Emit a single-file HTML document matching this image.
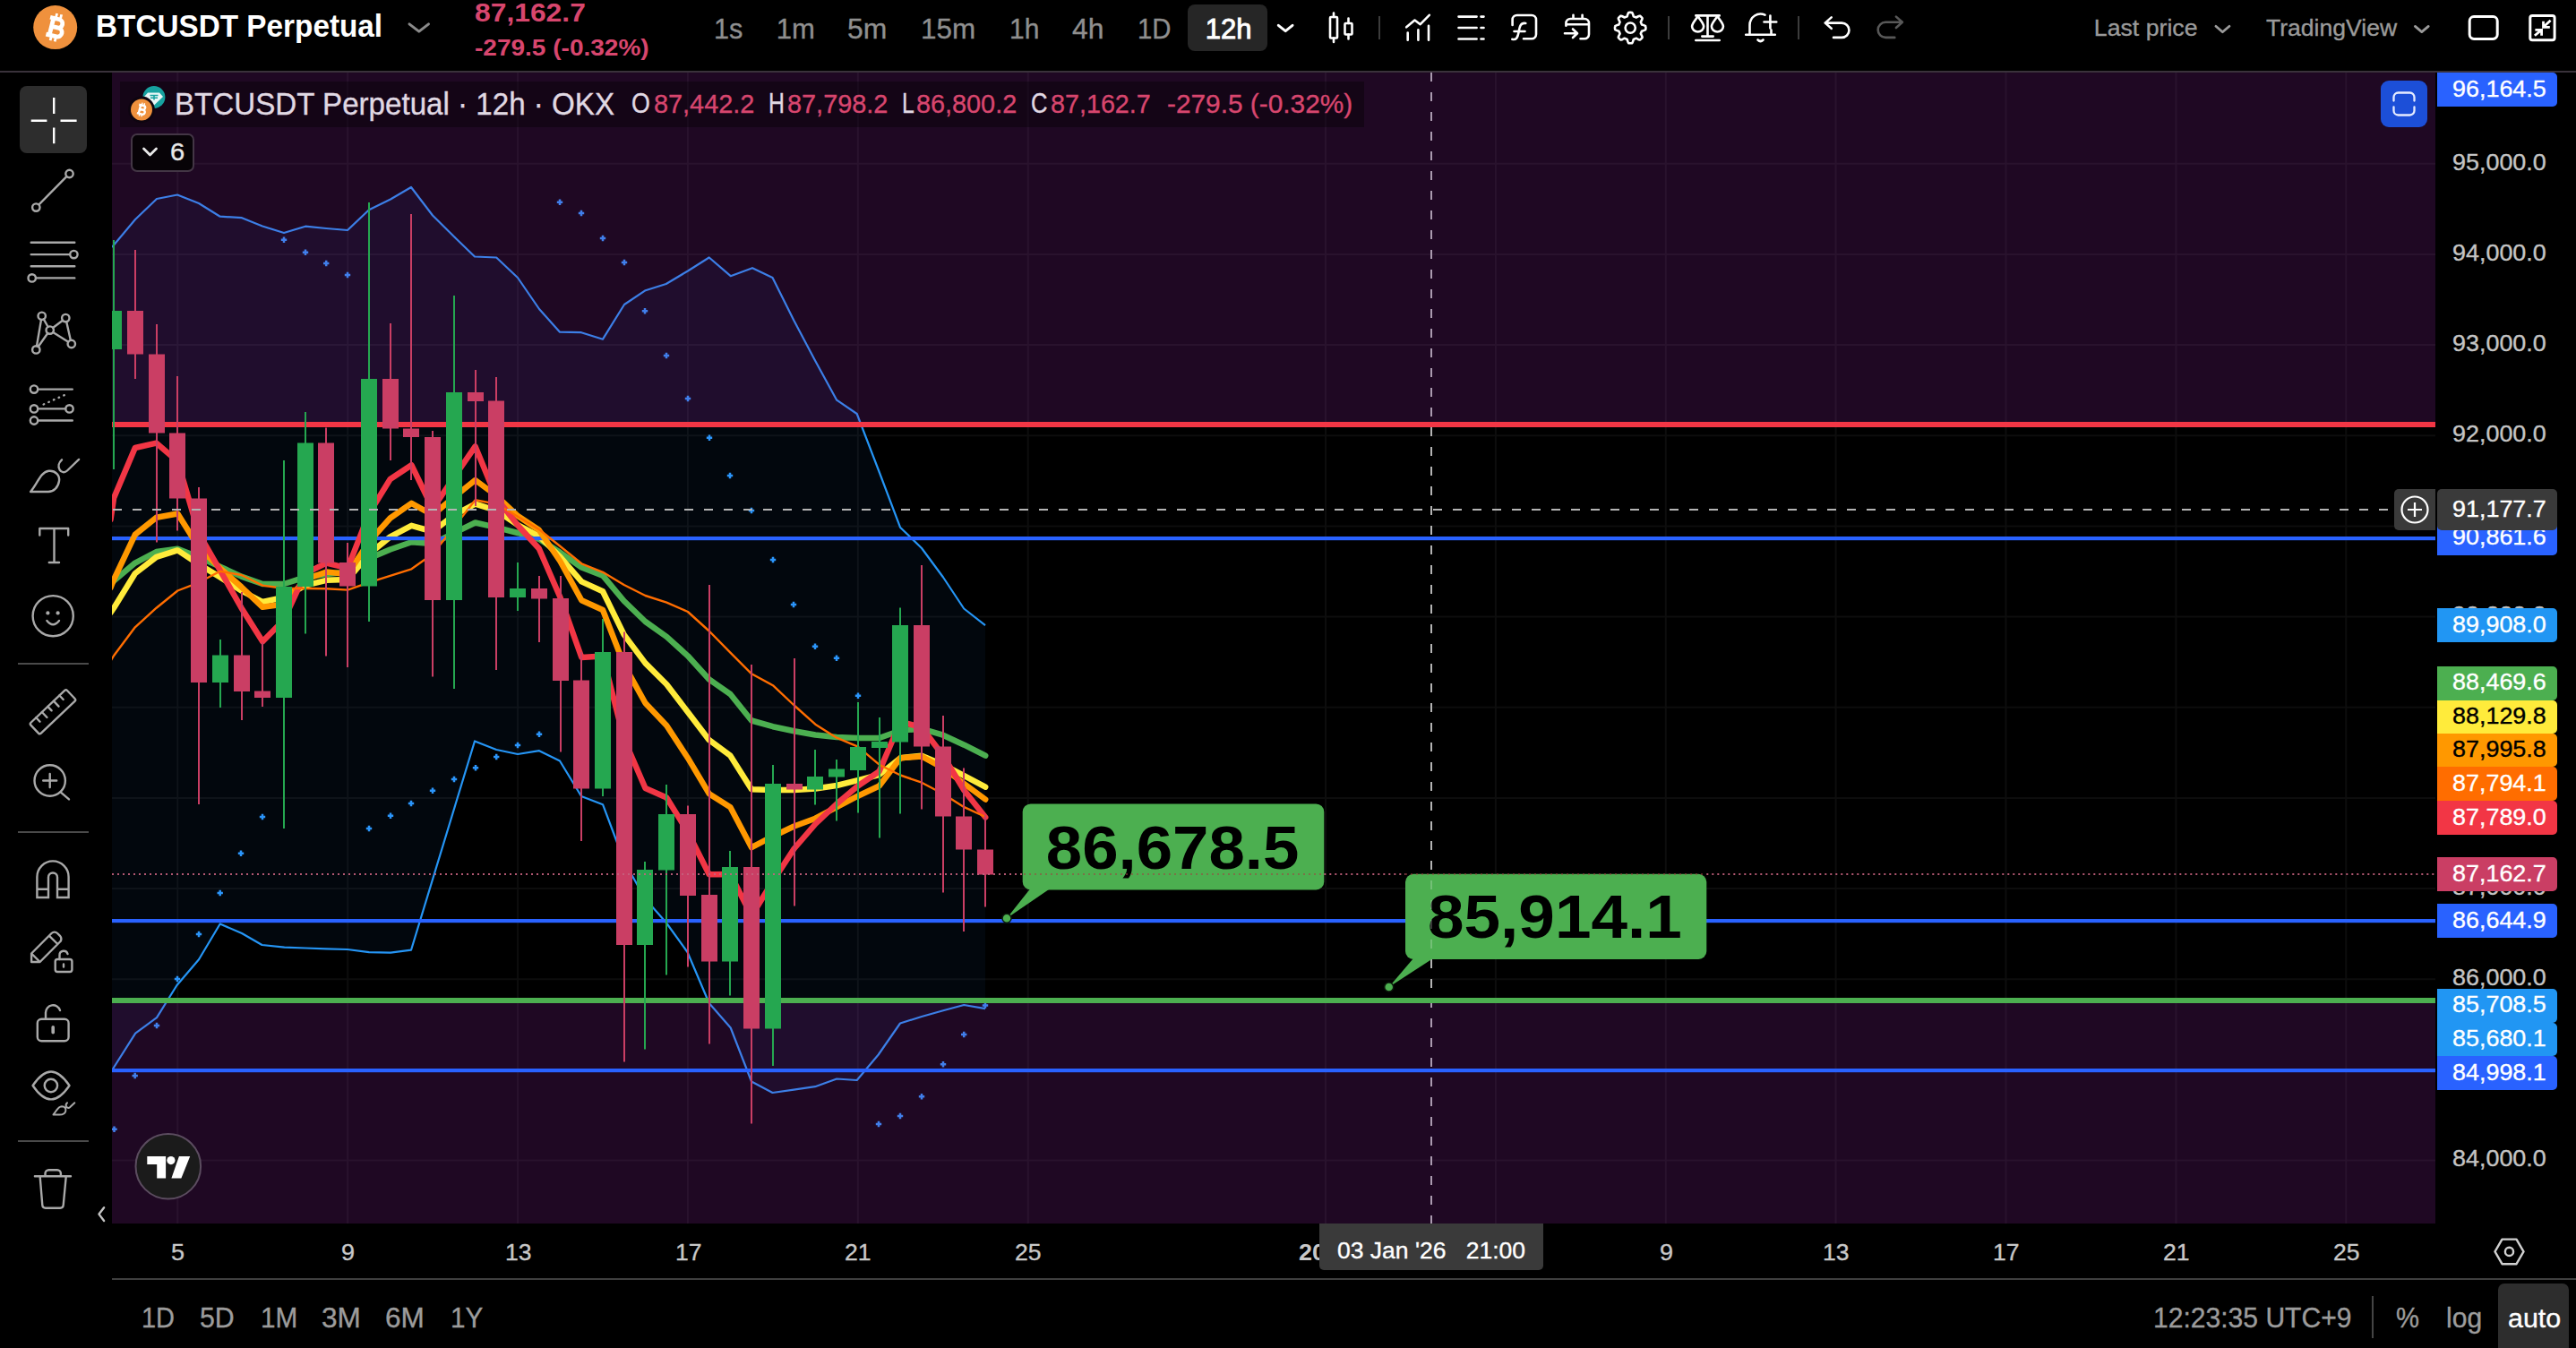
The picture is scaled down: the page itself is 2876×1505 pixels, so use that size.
<!DOCTYPE html>
<html lang="en"><head><meta charset="utf-8"><title>BTCUSDT Perpetual 12h chart</title>
<style>
html,body{margin:0;padding:0;background:#000;}
body{width:2876px;height:1505px;overflow:hidden;position:relative;font-family:"Liberation Sans",Arial,sans-serif;}
#app{position:absolute;left:0;top:0;width:2876px;height:1505px;background:#000;overflow:hidden;}
.t{position:absolute;white-space:pre;transform-origin:0 50%;display:block;}
.abs{position:absolute;}
svg{position:absolute;left:0;top:0;overflow:visible;}
#topbar{position:absolute;left:0;top:0;width:2876px;height:79px;background:#000;}
#topline{position:absolute;left:0;top:79px;width:2876px;height:2px;background:#3a323b;}
#tools{position:absolute;left:0;top:81px;width:125px;height:1347px;background:#000;}
#chart{position:absolute;left:125px;top:81px;width:2594px;height:1285px;background:#000;overflow:hidden;}
#paxis{position:absolute;left:2719px;top:81px;width:157px;height:1285px;background:#000;overflow:hidden;}
#taxis{position:absolute;left:125px;top:1366px;width:2751px;height:61px;background:#000;}
#botline{position:absolute;left:125px;top:1427px;width:2751px;height:2px;background:#3f3f3f;}
#bottom{position:absolute;left:0;top:1429px;width:2876px;height:76px;background:#000;overflow:hidden;}
.pl{position:absolute;left:2px;width:134px;height:38px;border-radius:0 5px 5px 0;}
.btn{position:absolute;border-radius:8px;background:#2c2c2c;}
.sep{position:absolute;width:2px;background:#3c3c3c;}
.hsep{position:absolute;left:20px;width:79px;height:2px;background:#4a4a4a;}
</style></head><body><div id="app">

<header id="topbar">
<div class="btn" style="left:1326px;top:5px;width:89px;height:52px;background:#262626"></div>
<span class="t " style="left:107.0px;top:8.2px;font-size:35.6px;line-height:43px;color:#fff;font-weight:700;transform:scaleX(0.9360);">BTCUSDT Perpetual</span>
<span class="t " style="left:529.7px;top:-4.7px;font-size:30.4px;line-height:36px;color:#d8466e;font-weight:700;transform:scaleX(1.0469);">87,162.7</span>
<span class="t " style="left:529.7px;top:37.8px;font-size:25.5px;line-height:31px;color:#d8466e;font-weight:700;transform:scaleX(1.0989);">-279.5 (-0.32%)</span>
<span class="t " style="left:796.9px;top:13.6px;font-size:31.0px;line-height:37px;color:#8f8f8f;transform:scaleX(0.9897);-webkit-text-stroke:0.35px #8f8f8f;">1s</span>
<span class="t " style="left:866.8px;top:13.6px;font-size:31.0px;line-height:37px;color:#8f8f8f;-webkit-text-stroke:0.35px #8f8f8f;">1m</span>
<span class="t " style="left:945.9px;top:13.6px;font-size:31.0px;line-height:37px;color:#8f8f8f;transform:scaleX(1.0288);-webkit-text-stroke:0.35px #8f8f8f;">5m</span>
<span class="t " style="left:1027.9px;top:13.6px;font-size:31.0px;line-height:37px;color:#8f8f8f;transform:scaleX(1.0134);-webkit-text-stroke:0.35px #8f8f8f;">15m</span>
<span class="t " style="left:1127.4px;top:13.6px;font-size:31.0px;line-height:37px;color:#8f8f8f;transform:scaleX(0.9660);-webkit-text-stroke:0.35px #8f8f8f;">1h</span>
<span class="t " style="left:1196.7px;top:13.6px;font-size:31.0px;line-height:37px;color:#8f8f8f;transform:scaleX(1.0269);-webkit-text-stroke:0.35px #8f8f8f;">4h</span>
<span class="t " style="left:1269.9px;top:13.6px;font-size:31.0px;line-height:37px;color:#8f8f8f;transform:scaleX(0.9465);-webkit-text-stroke:0.35px #8f8f8f;">1D</span>
<span class="t " style="left:1345.7px;top:13.6px;font-size:31.0px;line-height:37px;color:#fff;-webkit-text-stroke:0.90px #fff;">12h</span>
<span class="t " style="left:2337.8px;top:14.6px;font-size:26.7px;line-height:32px;color:#9a9a9a;-webkit-text-stroke:0.35px #9a9a9a;">Last price</span>
<span class="t " style="left:2530.0px;top:14.6px;font-size:26.7px;line-height:32px;color:#9a9a9a;transform:scaleX(0.9952);-webkit-text-stroke:0.35px #9a9a9a;">TradingView</span>
<div class="sep" style="left:1539px;top:18px;height:26px"></div>
<div class="sep" style="left:1862px;top:18px;height:26px"></div>
<div class="sep" style="left:2007px;top:18px;height:26px"></div>
<svg width="2876" height="79" viewBox="0 0 2876 79" fill="none" stroke="#fff" stroke-width="2.6" stroke-linecap="round" stroke-linejoin="round">
<circle cx="61.7" cy="30.6" r="24.5" fill="#ef913d" stroke="none"/>
<g transform="translate(62,30.6) rotate(14)" stroke="#fff" stroke-width="4.8" stroke-linecap="butt" stroke-linejoin="miter"><path d="M-8.5,-9.6 H2 a4.6,4.6 0 0 1 0,9.4 H-4.5 M-4.5,-0.2 H3.4 a5,5 0 0 1 0,10 H-8.5 M-4.6,-9.6 V9.8" /><path d="M-2.2,-15.5 V-11 M3,-15.5 V-11 M-2.2,11 V15.5 M3,11 V15.5" stroke-width="2.8"/></g>
<path d="M457.0,26.9 L467.8,35.1 L478.5,26.9" stroke="#8a8a8a" stroke-width="3"/>
<path d="M1427.3,28.3 L1435.2,34.7 L1443.0,28.3" stroke="#fff" stroke-width="3"/>
<path d="M2473.9,29.3 L2481.4,35.7 L2489.0,29.3" stroke="#9a9a9a" stroke-width="2.8"/>
<path d="M2696.4,29.4 L2703.8,35.6 L2711.2,29.4" stroke="#9a9a9a" stroke-width="2.8"/>
<rect x="1485" y="19" width="8" height="23.5" rx="1"/><path d="M1489,14.5 V19 M1489,42.5 V47"/><rect x="1501.5" y="26" width="8" height="12.5" rx="1"/><path d="M1505.5,20.5 V26 M1505.5,38.5 V43.5"/>
<path d="M1570.2,30.3 L1579.5,22.5 L1585.7,27.2 L1595.8,16.8 M1571.7,36.5 V44.7 M1583.4,33.4 V44.7 M1595,28.7 V44.7"/>
<path d="M1628.5,18.6 H1648.6 M1653.5,18.6 H1656.5"/>
<path d="M1628.5,31 H1648.6 M1653.5,31 H1656.5"/>
<path d="M1628.5,43.5 H1648.6 M1653.5,43.5 H1656.5"/>
<path d="M1688.6,28 V22 a5,5 0 0 1 5,-5 H1710 a5,5 0 0 1 5,5 V38.3 a5,5 0 0 1 -5,5 H1701"/>
<path d="M1688.3,43.8 c4.5,1.2 6.2,-2 7.2,-7.5 c1,-6 1.6,-11.3 7.8,-10.3 M1690.5,35 H1702.5"/>
<path d="M1748.4,28.7 V26 a5,5 0 0 1 5,-5 H1769 a5,5 0 0 1 5,5 V38.3 a5,5 0 0 1 -5,5 H1764.5 M1756.5,16.8 V21 M1766.6,16.8 V21 M1748.4,27.2 H1774 M1747,37.3 H1760.5 M1756,32.5 L1761,37.3 L1756,42"/>
<path d="M1820.2,13.9 L1820.9,13.9 L1821.5,14.0 L1822.2,14.1 L1822.7,15.1 L1823.2,16.2 L1823.5,17.3 L1823.8,18.3 L1824.3,18.5 L1824.8,18.7 L1825.3,18.9 L1825.7,19.1 L1826.2,19.3 L1826.7,19.5 L1827.6,19.0 L1828.6,18.5 L1829.7,18.0 L1830.8,17.7 L1831.4,18.0 L1831.9,18.5 L1832.4,18.9 L1832.8,19.4 L1833.3,19.9 L1833.6,20.5 L1833.3,21.6 L1832.8,22.7 L1832.3,23.7 L1831.8,24.6 L1832.0,25.1 L1832.2,25.6 L1832.4,26.0 L1832.6,26.5 L1832.8,27.0 L1833.0,27.5 L1834.0,27.8 L1835.1,28.1 L1836.2,28.6 L1837.2,29.1 L1837.3,29.8 L1837.4,30.4 L1837.4,31.1 L1837.4,31.8 L1837.3,32.4 L1837.2,33.1 L1836.2,33.6 L1835.1,34.1 L1834.0,34.4 L1833.0,34.7 L1832.8,35.2 L1832.6,35.7 L1832.4,36.2 L1832.2,36.6 L1832.0,37.1 L1831.8,37.6 L1832.3,38.5 L1832.8,39.5 L1833.3,40.6 L1833.6,41.7 L1833.3,42.3 L1832.8,42.8 L1832.4,43.3 L1831.9,43.7 L1831.4,44.2 L1830.8,44.5 L1829.7,44.2 L1828.6,43.7 L1827.6,43.2 L1826.7,42.7 L1826.2,42.9 L1825.7,43.1 L1825.3,43.3 L1824.8,43.5 L1824.3,43.7 L1823.8,43.9 L1823.5,44.9 L1823.2,46.0 L1822.7,47.1 L1822.2,48.1 L1821.5,48.2 L1820.9,48.3 L1820.2,48.3 L1819.5,48.3 L1818.9,48.2 L1818.2,48.1 L1817.7,47.1 L1817.2,46.0 L1816.9,44.9 L1816.6,43.9 L1816.1,43.7 L1815.6,43.5 L1815.1,43.3 L1814.7,43.1 L1814.2,42.9 L1813.7,42.7 L1812.8,43.2 L1811.8,43.7 L1810.7,44.2 L1809.6,44.5 L1809.0,44.2 L1808.5,43.7 L1808.0,43.3 L1807.6,42.8 L1807.1,42.3 L1806.8,41.7 L1807.1,40.6 L1807.6,39.5 L1808.1,38.5 L1808.6,37.6 L1808.4,37.1 L1808.2,36.6 L1808.0,36.2 L1807.8,35.7 L1807.6,35.2 L1807.4,34.7 L1806.4,34.4 L1805.3,34.1 L1804.2,33.6 L1803.2,33.1 L1803.1,32.4 L1803.0,31.8 L1803.0,31.1 L1803.0,30.4 L1803.1,29.8 L1803.2,29.1 L1804.2,28.6 L1805.3,28.1 L1806.4,27.8 L1807.4,27.5 L1807.6,27.0 L1807.8,26.5 L1808.0,26.0 L1808.2,25.6 L1808.4,25.1 L1808.6,24.6 L1808.1,23.7 L1807.6,22.7 L1807.1,21.6 L1806.8,20.5 L1807.1,19.9 L1807.6,19.4 L1808.0,18.9 L1808.5,18.5 L1809.0,18.0 L1809.6,17.7 L1810.7,18.0 L1811.8,18.5 L1812.8,19.0 L1813.7,19.5 L1814.2,19.3 L1814.7,19.1 L1815.1,18.9 L1815.6,18.7 L1816.1,18.5 L1816.6,18.3 L1816.9,17.3 L1817.2,16.2 L1817.7,15.1 L1818.2,14.1 L1818.9,14.0 L1819.5,13.9 L1820.2,13.9Z"/>
<circle cx="1820.2" cy="31.1" r="5.6"/>
<path d="M1893.3,17.4 H1919.7 M1906.5,17.4 V40.4 M1900.3,40.6 H1912.7 M1893.3,45 H1919.7"/>
<path d="M1895.6,18 c-3,5 -6.5,8 -6.5,11.5 a6.5,6 0 0 0 13,0 c0,-3.5 -3.5,-6.5 -6.5,-11.5z"/>
<path d="M1917.4,18 c-3,5 -6.5,8 -6.5,11.5 a6.5,6 0 0 0 13,0 c0,-3.5 -3.5,-6.5 -6.5,-11.5z"/>
<path d="M1949.2,38.8 H1981.8 M1953.5,38.8 V28 a12,12.5 0 0 1 17,-11.3 M1977.5,33.5 V38.8 M1969.5,24.5 H1983.3 M1976.4,17.5 V31.5 M1962.5,44.5 q3,3 6,0"/>
<path d="M2044.7,19.4 L2037.7,25.6 L2044.7,31.8 M2037.7,25.6 H2056.3 a8.15,8.15 0 0 1 0,16.3 H2047"/>
<path d="M2116.9,18.6 L2123.9,24.8 L2116.9,31 M2123.9,24.8 H2105.2 a8.55,8.55 0 0 0 0,17.1 H2115.3" stroke="#585858"/>
<rect x="2757.2" y="18.6" width="31" height="24.8" rx="4.8" stroke-width="3"/>
<rect x="2824.8" y="17.4" width="27.3" height="27.3" rx="2.5" stroke-width="3"/>
<path d="M2847.6,22.7 L2839.8,30 M2839.5,23.7 V30.3 H2846.8 M2829.9,39.8 L2837.2,33.6 M2830.4,33.3 H2837.6 V39.8" stroke-width="2.8" stroke-linecap="butt" stroke-linejoin="miter"/>
</svg>
</header><div id="topline"></div>
<aside id="tools">
<div class="btn" style="left:22px;top:15px;width:75px;height:75px;background:#2d2d2d"></div>
<div class="hsep" style="top:659px"></div>
<div class="hsep" style="top:847px"></div>
<div class="hsep" style="top:1192px"></div>
<svg width="125" height="1347" viewBox="0 81 125 1347" fill="none" stroke="#a9a9a9" stroke-width="2.4" stroke-linecap="round" stroke-linejoin="round">
<path d="M34.7,134.8 H52.4 M67.5,134.8 H85.6 M60.2,109 V127 M60.2,142.5 V160.2" stroke="#fff" stroke-linecap="butt"/>
<circle cx="77.5" cy="194" r="4.2"/><circle cx="40.3" cy="231.6" r="4.2"/><path d="M43.5,228.4 L74.3,197.2"/>
<path d="M34.7,270.8 H83.3 M34.7,284.1 H78 M34.7,297.2 H83.3 M40.2,310.4 H83.3"/><circle cx="82.4" cy="284.1" r="4.2"/><circle cx="35.7" cy="310.4" r="4.2"/>
<path d="M46.0,356.9 L41.0,386.3 M48.8,356.4 L53.6,365.0 M42.7,387.0 L53.3,372.0 M59.0,366.0 L70.0,357.7 M74.2,359.2 L78.9,379.9 M59.2,370.9 L76.3,381.7"/>
<circle cx="46.7" cy="352.8" r="4.2"/>
<circle cx="73.3" cy="355.1" r="4.2"/>
<circle cx="55.7" cy="368.6" r="4.2"/>
<circle cx="79.8" cy="384" r="4.2"/>
<circle cx="40.3" cy="390.4" r="4.2"/>
<path d="M42.5,434.6 H80.8 M42.5,456.4 H73 M42.5,469.5 H80.8"/><path d="M48.6,451.5 L76.6,439" stroke-dasharray="0.6 5.6"/>
<circle cx="38" cy="434.6" r="4.2"/>
<circle cx="38" cy="456.4" r="4.2"/>
<circle cx="77.5" cy="456.4" r="4.2"/>
<circle cx="38" cy="469.5" r="4.2"/>
<path d="M34.1,549 C42,540 45,527 54.4,525.8 C62,525 67,531 66,537 C65,544 60,549 54,549 Z"/><path d="M88.1,512.9 L75,525.5 C72,528.3 68.5,527.5 66.6,524.5 C64.5,521 65.5,516.5 69,513.3"/>
<path d="M44.3,597.6 V590 H76.2 V597.6 M60.5,590 V628 M54.8,628 H66"/>
<circle cx="59.2" cy="687.7" r="22.6"/><circle cx="53.4" cy="684.4" r="2.1" fill="#a9a9a9" stroke="none"/><circle cx="64.6" cy="684.4" r="2.1" fill="#a9a9a9" stroke="none"/><path d="M52.4,693 Q59.2,701.5 66,693"/>
<g transform="translate(59,794.8) rotate(-43.5)"><rect x="-28" y="-8.2" width="56" height="16.4" rx="2"/><path d="M-18,-8.2 V-2 M-9,-8.2 V0 M0,-8.2 V-2 M9,-8.2 V0 M18,-8.2 V-2"/></g>
<circle cx="55.7" cy="871.5" r="17.2"/><path d="M48.2,871.5 H63.2 M55.7,864 V879 M67.9,884.6 L77,892.4"/>
<path d="M41.4,1002 V979 a17.6,17.6 0 0 1 35.2,0 V1002 H64 V979.5 a5,5 0 0 0 -10,0 V1002 Z M41.4,992.7 H54 M64,992.7 H76.6" stroke-linejoin="miter"/>
<path d="M35.1,1074 V1064.5 L57.5,1042 a4.6,4.6 0 0 1 6.6,0 l2.9,2.9 a4.6,4.6 0 0 1 0,6.6 L44.6,1074 Z M35.1,1064.5 L44.6,1074 M55,1044.8 L64.3,1054"/>
<rect x="61.7" y="1071" width="18.7" height="14" rx="2.5"/><path d="M66.5,1071 V1066.5 a4.6,4.6 0 0 1 9,-1.5 M71,1076.5 V1079.5"/>
<rect x="41.8" y="1137.7" width="34.8" height="24.5" rx="4.5"/><path d="M51,1137.7 V1130.5 a8.2,8.2 0 0 1 16,-2.5"/><path d="M59.2,1146.7 V1152.7" stroke-width="3.6"/>
<path d="M36.6,1212 C44,1201 50,1196.5 57,1196.5 C64,1196.5 70,1201 77.5,1212 C70,1223 64,1227.4 57,1227.4 C50,1227.4 44,1223 36.6,1212 Z"/><circle cx="56.9" cy="1212" r="7.2"/>
<path d="M59.5,1244.5 C63,1240.5 64.5,1235.5 69,1235.3 C72.5,1235.3 74,1238 73.3,1240.5 C72.5,1243.5 69.5,1244.6 66.5,1244.6 Z M83.3,1231.3 L78,1236.2 C76.5,1237.5 74.8,1236.8 74,1235.5 C73.3,1234 73.6,1232.4 75,1231.2" stroke-width="2"/>
<path d="M38.9,1313.3 H79 M50.5,1313.3 V1310.3 a4,4 0 0 1 4,-4 H63.9 a4,4 0 0 1 4,4 V1313.3 M44.7,1314 L47.3,1345.5 a3.5,3.5 0 0 0 3.5,3.2 H67.2 a3.5,3.5 0 0 0 3.5,-3.2 L73.7,1314"/>
<path d="M116.1,1348.3 L110.5,1355.6 L116.1,1363" stroke="#c4c4c4"/>
</svg></aside>
<main id="chart">
<svg width="2594" height="1285" viewBox="125 81 2594 1285">
<path d="M198.3,81 V1366 M388.2,81 V1366 M578.1,81 V1366 M767.9,81 V1366 M957.8,81 V1366 M1147.7,81 V1366 M1480.0,81 V1366 M1669.9,81 V1366 M1859.8,81 V1366 M2049.6,81 V1366 M2239.5,81 V1366 M2429.4,81 V1366 M2619.3,81 V1366 M125,1295.5 H2719 M125,1194.3 H2719 M125,1093.2 H2719 M125,992.0 H2719 M125,890.9 H2719 M125,789.7 H2719 M125,688.5 H2719 M125,587.4 H2719 M125,486.2 H2719 M125,385.1 H2719 M125,283.9 H2719 M125,182.8 H2719" stroke="#0d0d0d" stroke-width="2" fill="none"/>
<polygon points="125.0,276.0 151.0,245.0 175.0,222.0 198.0,217.5 222.0,227.0 245.7,241.7 270.0,243.2 293.0,252.5 317.0,260.0 341.0,252.7 364.2,255.0 388.0,257.0 412.0,234.2 436.0,222.5 459.0,209.0 483.0,240.5 507.0,264.2 530.0,286.5 554.2,287.5 578.0,310.0 602.0,345.0 625.0,370.7 649.0,371.2 673.0,378.7 697.0,340.0 720.7,324.2 743.7,317.0 768.0,302.5 791.7,287.5 815.7,308.2 840.0,299.2 862.5,310.0 886.2,357.5 910.0,402.5 934.2,446.7 956.7,462.0 980.7,524.5 1005.0,588.7 1029.0,612.0 1053.0,644.5 1076.2,679.5 1100.0,698.2 1100.0,1126.2 1076.2,1122.0 1053.0,1128.2 1029.0,1135.0 1005.0,1142.5 980.7,1177.5 956.7,1206.0 934.2,1204.5 910.0,1213.2 886.2,1216.7 862.5,1220.0 839.0,1207.5 815.7,1147.5 791.7,1120.0 767.5,1063.0 743.7,1030.0 720.0,1003.0 697.0,962.0 673.0,898.2 649.0,889.0 625.0,849.5 602.0,838.2 578.0,842.0 554.2,837.0 530.0,827.5 459.0,1060.7 436.0,1063.7 412.0,1063.2 388.0,1060.0 364.5,1059.3 341.0,1058.5 317.5,1057.7 292.5,1055.0 270.0,1042.0 245.7,1031.5 222.0,1071.2 197.5,1100.0 175.0,1136.2 151.2,1153.7 125.0,1195.0" fill="#2a7af5" fill-opacity="0.055"/>
<polyline points="125.0,276.0 151.0,245.0 175.0,222.0 198.0,217.5 222.0,227.0 245.7,241.7 270.0,243.2 293.0,252.5 317.0,260.0 341.0,252.7 364.2,255.0 388.0,257.0 412.0,234.2 436.0,222.5 459.0,209.0 483.0,240.5 507.0,264.2 530.0,286.5 554.2,287.5 578.0,310.0 602.0,345.0 625.0,370.7 649.0,371.2 673.0,378.7 697.0,340.0 720.7,324.2 743.7,317.0 768.0,302.5 791.7,287.5 815.7,308.2 840.0,299.2 862.5,310.0 886.2,357.5 910.0,402.5 934.2,446.7 956.7,462.0 980.7,524.5 1005.0,588.7 1029.0,612.0 1053.0,644.5 1076.2,679.5 1100.0,698.2" fill="none" stroke="#2595f5" stroke-width="2.2" stroke-linejoin="round"/>
<polyline points="125.0,1195.0 151.2,1153.7 175.0,1136.2 197.5,1100.0 222.0,1071.2 245.7,1031.5 270.0,1042.0 292.5,1055.0 317.5,1057.7 341.0,1058.5 364.5,1059.3 388.0,1060.0 412.0,1063.2 436.0,1063.7 459.0,1060.7 530.0,827.5 554.2,837.0 578.0,842.0 602.0,838.2 625.0,849.5 649.0,889.0 673.0,898.2 697.0,962.0 720.0,1003.0 743.7,1030.0 767.5,1063.0 791.7,1120.0 815.7,1147.5 839.0,1207.5 862.5,1220.0 886.2,1216.7 910.0,1213.2 934.2,1204.5 956.7,1206.0 980.7,1177.5 1005.0,1142.5 1029.0,1135.0 1053.0,1128.2 1076.2,1122.0 1100.0,1126.2" fill="none" stroke="#2595f5" stroke-width="2.2" stroke-linejoin="round"/>
<path d="M124.3,1260.7 h6.4 M127.5,1257.5 v6.4 M147.5,1201.0 h6.4 M150.7,1197.8 v6.4 M171.8,1145.0 h6.4 M175.0,1141.8 v6.4 M194.8,1093.0 h6.4 M198.0,1089.8 v6.4 M218.8,1043.0 h6.4 M222.0,1039.8 v6.4 M242.5,997.0 h6.4 M245.7,993.8 v6.4 M265.8,952.7 h6.4 M269.0,949.5 v6.4 M289.8,912.0 h6.4 M293.0,908.8 v6.4 M313.8,267.7 h6.4 M317.0,264.5 v6.4 M337.8,281.7 h6.4 M341.0,278.5 v6.4 M361.0,294.0 h6.4 M364.2,290.8 v6.4 M384.8,307.0 h6.4 M388.0,303.8 v6.4 M408.8,925.0 h6.4 M412.0,921.8 v6.4 M432.8,910.7 h6.4 M436.0,907.5 v6.4 M455.8,897.0 h6.4 M459.0,893.8 v6.4 M479.8,882.7 h6.4 M483.0,879.5 v6.4 M503.8,870.0 h6.4 M507.0,866.8 v6.4 M527.8,857.2 h6.4 M531.0,854.0 v6.4 M551.0,845.0 h6.4 M554.2,841.8 v6.4 M574.8,832.0 h6.4 M578.0,828.8 v6.4 M598.8,819.7 h6.4 M602.0,816.5 v6.4 M621.8,225.7 h6.4 M625.0,222.5 v6.4 M645.8,238.0 h6.4 M649.0,234.8 v6.4 M669.8,266.0 h6.4 M673.0,262.8 v6.4 M693.8,293.0 h6.4 M697.0,289.8 v6.4 M716.8,347.2 h6.4 M720.0,344.0 v6.4 M740.8,397.0 h6.4 M744.0,393.8 v6.4 M764.8,445.0 h6.4 M768.0,441.8 v6.4 M788.8,488.7 h6.4 M792.0,485.5 v6.4 M811.8,531.0 h6.4 M815.0,527.8 v6.4 M835.8,570.0 h6.4 M839.0,566.8 v6.4 M859.8,625.0 h6.4 M863.0,621.8 v6.4 M882.8,675.0 h6.4 M886.0,671.8 v6.4 M906.8,721.7 h6.4 M910.0,718.5 v6.4 M930.8,734.7 h6.4 M934.0,731.5 v6.4 M954.8,776.7 h6.4 M958.0,773.5 v6.4 M977.8,1255.0 h6.4 M981.0,1251.8 v6.4 M1001.8,1246.0 h6.4 M1005.0,1242.8 v6.4 M1025.8,1224.2 h6.4 M1029.0,1221.0 v6.4 M1049.8,1188.2 h6.4 M1053.0,1185.0 v6.4 M1073.0,1155.0 h6.4 M1076.2,1151.8 v6.4 M1096.8,1122.5 h6.4 M1100.0,1119.3 v6.4" stroke="#2b95fa" stroke-width="2.5" fill="none"/>
<rect x="125" y="81" width="2594" height="393" fill="#9c27b0" fill-opacity="0.2"/>
<rect x="125" y="1117" width="2594" height="249" fill="#9c27b0" fill-opacity="0.2"/>
<polyline points="123.5,652.0 127.1,648.6 150.8,628.6 174.6,616.0 198.3,612.7 222.0,622.0 245.8,632.7 269.5,643.6 293.2,652.0 317.0,652.0 340.7,644.4 364.4,641.0 388.2,638.6 411.9,623.6 435.6,613.5 459.4,605.2 483.1,606.9 506.9,595.2 530.6,583.5 554.3,588.9 578.1,595.0 601.8,601.8 625.5,616.8 649.3,633.5 673.0,642.7 696.7,671.0 720.5,694.0 744.2,710.8 767.9,732.3 791.7,758.5 815.4,775.0 839.1,804.5 862.9,811.2 886.6,816.2 910.3,820.5 934.1,823.0 957.8,824.0 981.6,824.0 1005.3,815.5 1029.0,813.7 1052.8,820.7 1076.5,831.7 1100.2,843.7" fill="none" stroke="#4caf50" stroke-width="6.5" stroke-linejoin="round" stroke-linecap="round"/>
<polyline points="123.5,684.0 127.1,678.7 150.8,640.3 174.6,621.9 198.3,614.4 222.0,630.0 245.8,644.4 269.5,659.5 293.2,672.0 317.0,667.0 340.7,653.6 364.4,647.8 388.2,647.0 411.9,618.6 435.6,599.4 459.4,586.8 483.1,593.5 506.9,575.0 530.6,562.6 554.3,570.0 578.1,586.0 601.8,598.5 625.5,621.8 649.3,649.4 673.0,660.2 696.7,708.6 720.5,740.4 744.2,764.0 767.9,795.0 791.7,826.2 815.4,843.7 839.1,881.2 862.9,882.0 886.6,882.0 910.3,880.5 934.1,877.0 957.8,871.2 981.6,865.0 1005.3,846.2 1029.0,843.7 1052.8,853.7 1076.5,866.2 1100.2,878.7" fill="none" stroke="#ffeb3b" stroke-width="6.5" stroke-linejoin="round" stroke-linecap="round"/>
<rect x="125" y="471" width="2594" height="6" fill="#f23645"/>
<rect x="125" y="599" width="2594" height="4.2" fill="#2962ff"/>
<rect x="125" y="1026" width="2594" height="4.2" fill="#2962ff"/>
<rect x="125" y="1114" width="2594" height="6" fill="#4caf50"/>
<rect x="125" y="1193" width="2594" height="4.2" fill="#2962ff"/>
<polyline points="123.5,656.0 127.1,647.0 150.8,596.9 174.6,577.7 198.3,573.5 222.0,611.2 245.8,634.4 269.5,655.3 293.2,677.8 317.0,674.5 340.7,647.0 364.4,638.6 388.2,641.0 411.9,605.0 435.6,578.5 459.4,561.8 483.1,575.0 506.9,555.0 530.6,536.0 554.3,553.5 578.1,576.0 601.8,591.8 625.5,626.8 649.3,670.2 673.0,681.0 696.7,742.0 720.5,785.0 744.2,810.0 767.9,846.2 791.7,886.2 815.4,901.2 839.1,946.2 862.9,933.7 886.6,922.5 910.3,913.7 934.1,901.2 957.8,888.7 981.6,877.5 1005.3,846.2 1029.0,844.5 1052.8,857.5 1076.5,875.0 1100.2,892.5" fill="none" stroke="#ff9800" stroke-width="6.5" stroke-linejoin="round" stroke-linecap="round"/>
<polyline points="123.5,580.0 127.1,556.0 150.8,500.0 174.6,494.7 198.3,515.0 222.0,595.5 245.8,637.0 269.5,678.7 293.2,716.2 317.0,692.0 340.7,640.3 364.4,628.6 388.2,634.4 411.9,573.5 435.6,535.0 459.4,519.2 483.1,568.0 506.9,532.8 530.6,498.4 554.3,556.0 578.1,586.5 601.8,612.5 625.5,667.0 649.3,734.0 673.0,732.5 696.7,825.0 720.5,880.0 744.2,890.5 767.9,929.0 791.7,976.2 815.4,976.0 839.1,1022.5 862.9,983.7 886.6,947.5 910.3,920.0 934.1,897.5 957.8,877.5 981.6,861.2 1005.3,806.0 1029.0,812.0 1052.8,843.5 1076.5,882.5 1100.2,912.5" fill="none" stroke="#f23645" stroke-width="6.5" stroke-linejoin="round" stroke-linecap="round"/>
<polyline points="123.5,738.0 127.1,732.0 150.8,700.3 174.6,678.7 198.3,659.5 222.0,650.3 245.8,637.8 269.5,642.0 293.2,653.6 317.0,657.0 340.7,657.0 364.4,657.3 388.2,658.6 411.9,650.3 435.6,642.8 459.4,635.3 483.1,618.6 506.9,588.5 530.6,558.2 554.3,562.6 578.1,576.8 601.8,591.0 625.5,610.0 649.3,629.3 673.0,638.8 696.7,653.0 720.5,665.0 744.2,672.6 767.9,683.0 791.7,704.5 815.4,728.6 839.1,752.3 862.9,765.2 886.6,787.5 910.3,808.7 934.1,823.7 957.8,833.7 981.6,853.7 1005.3,865.5 1029.0,873.7 1052.8,886.2 1076.5,901.2 1100.2,912.0" fill="none" stroke="#ff6d00" stroke-width="2.4" stroke-linejoin="round" stroke-linecap="round"/>
<path d="M127,268.0 V524.0 M246,714.0 V790.0 M317,514.0 V925.0 M341,460.0 V707.5 M412,226.0 V694.0 M507,330.0 V769.0 M578,628.0 V682.0 M673,691.0 V889.0 M720,962.0 V1171.5 M744,876.0 V1088.5 M815,950.0 V1111.5 M863,854.0 V1190.0 M910,837.0 V898.5 M934,848.0 V916.5 M958,784.0 V907.5 M982,801.0 V935.5 M1005,678.5 V908.5" stroke="#25a750" stroke-width="2" fill="none"/>
<path d="M118,347.0 h18 V390.0 h-18 Z M237,731.5 h18 V762.0 h-18 Z M308,655.0 h18 V779.0 h-18 Z M332,494.5 h18 V655.0 h-18 Z M403,423.0 h18 V654.5 h-18 Z M498,438.0 h18 V670.0 h-18 Z M569,657.0 h18 V667.0 h-18 Z M664,728.0 h18 V880.5 h-18 Z M711,971.0 h18 V1055.0 h-18 Z M735,909.0 h18 V971.5 h-18 Z M806,968.0 h18 V1073.5 h-18 Z M854,875.0 h18 V1148.5 h-18 Z M901,867.0 h18 V881.5 h-18 Z M925,858.5 h18 V867.5 h-18 Z M949,834.0 h18 V860.0 h-18 Z M973,828.0 h18 V835.0 h-18 Z M996,698.0 h18 V828.5 h-18 Z" fill="#25a750"/>
<path d="M151,279.0 V423.0 M175,362.0 V605.5 M198,420.0 V592.5 M222,544.0 V898.0 M270,661.0 V804.0 M293,717.5 V789.0 M364,477.5 V732.5 M388,606.0 V745.0 M436,361.0 V514.0 M459,239.0 V536.0 M483,481.0 V755.5 M531,413.0 V565.0 M554,421.0 V748.0 M602,643.0 V717.0 M626,643.0 V839.5 M649,728.0 V939.0 M697,705.5 V1185.5 M768,899.5 V1079.5 M792,653.0 V1165.5 M839,742.0 V1254.5 M887,735.0 V1011.5 M1029,631.0 V903.5 M1053,799.0 V996.5 M1076,857.5 V1040.0 M1100,910.0 V1012.5" stroke="#ca3e64" stroke-width="2" fill="none"/>
<path d="M142,347.0 h18 V395.5 h-18 Z M166,395.5 h18 V483.5 h-18 Z M189,483.5 h18 V556.5 h-18 Z M213,556.5 h18 V762.0 h-18 Z M261,731.5 h18 V772.0 h-18 Z M284,771.5 h18 V779.0 h-18 Z M355,494.5 h18 V628.5 h-18 Z M379,628.0 h18 V654.5 h-18 Z M427,423.0 h18 V478.5 h-18 Z M450,478.5 h18 V488.0 h-18 Z M474,488.0 h18 V670.0 h-18 Z M522,438.0 h18 V448.0 h-18 Z M545,447.5 h18 V667.0 h-18 Z M593,657.0 h18 V668.5 h-18 Z M617,668.0 h18 V760.0 h-18 Z M640,759.5 h18 V880.5 h-18 Z M688,728.0 h18 V1055.0 h-18 Z M759,909.0 h18 V1000.0 h-18 Z M783,999.0 h18 V1073.5 h-18 Z M830,968.0 h18 V1148.5 h-18 Z M878,875.0 h18 V881.5 h-18 Z M1020,698.0 h18 V833.5 h-18 Z M1044,833.5 h18 V911.5 h-18 Z M1067,911.5 h18 V948.5 h-18 Z M1091,948.5 h18 V976.5 h-18 Z" fill="#ca3e64"/>
<path d="M125,569 H2673" stroke="#b4b4b4" stroke-width="2" stroke-dasharray="10 12" stroke-dashoffset="-1" fill="none"/>
<path d="M1598,81 V471" stroke="#ab9bb0" stroke-width="2" stroke-dasharray="10 12" stroke-dashoffset="0" fill="none"/>
<path d="M1598,477 V1114" stroke="#b4b4b4" stroke-width="2" stroke-dasharray="10 12" stroke-dashoffset="0.0" fill="none"/>
<path d="M1598,1120 V1366" stroke="#ab9bb0" stroke-width="2" stroke-dasharray="10 12" stroke-dashoffset="5.0" fill="none"/>
<path d="M1150.0,992.5 L1124.0,1025.2 L1171.8,992.5 Z" fill="#4caf50"/><rect x="1141.7" y="897.4" width="336.6" height="96.1" rx="9" fill="#4caf50"/><circle cx="1124.0" cy="1025.2" r="5" fill="#4caf50" stroke="#0b1a0c" stroke-width="1.5"/><text transform="translate(1167.8,970.1) scale(1.0679,1)" font-family="Liberation Sans, Arial, sans-serif" font-weight="700" font-size="68" fill="#000">86,678.5</text>
<path d="M1578.0,1070.0 L1550.7,1102.0 L1600.0,1070.0 Z" fill="#4caf50"/><rect x="1569.0" y="975.8" width="336.3" height="95.2" rx="9" fill="#4caf50"/><circle cx="1550.7" cy="1102.0" r="5" fill="#4caf50" stroke="#0b1a0c" stroke-width="1.5"/><text transform="translate(1594.0,1047.0) scale(1.0724,1)" font-family="Liberation Sans, Arial, sans-serif" font-weight="700" font-size="68" fill="#000">85,914.1</text>
<path d="M125,976 H1141.7 M1478.3,976 H1569 M1905.3,976 H2719" stroke="#c5607d" stroke-opacity="0.9" stroke-width="2" stroke-dasharray="2 4" fill="none"/>
<path d="M1143,976 H1478 M1569,976 H1905" stroke="#a04040" stroke-opacity="0.55" stroke-width="2" stroke-dasharray="2 4" fill="none"/>
<path d="M1598,975.8 V1071" stroke="#ffffff" stroke-opacity="0.22" stroke-width="2" stroke-dasharray="10 12" stroke-dashoffset="14.8" fill="none"/>
<circle cx="187.8" cy="1302.2" r="36.3" fill="#1b1b1b" stroke="#5b4c5f" stroke-width="2"/>
<path d="M164.3,1291.1 H185.1 V1315.6 H175.2 V1300.1 H164.3 Z M199.9,1291.1 H212.2 L202.4,1315.6 H191.4 Z" fill="#fff"/><circle cx="190.9" cy="1295.6" r="4.6" fill="#fff"/>
</svg>
<div class="abs" style="left:9px;top:10px;width:1389px;height:51px;background:rgba(0,0,0,0.35)"></div>
<span class="t " style="left:70.0px;top:14.4px;font-size:35.3px;line-height:42px;color:#e0d9e3;transform:scaleX(0.9386);-webkit-text-stroke:0.35px #e0d9e3;">BTCUSDT Perpetual · 12h · OKX</span>
<span class="t " style="left:580.2px;top:15.8px;font-size:31.0px;line-height:37px;color:#e0d9e3;transform:scaleX(0.8624);-webkit-text-stroke:0.35px #e0d9e3;">O</span>
<span class="t " style="left:604.5px;top:17.5px;font-size:29.0px;line-height:35px;color:#d8466e;transform:scaleX(0.9947);-webkit-text-stroke:0.35px #d8466e;">87,442.2</span>
<span class="t " style="left:732.7px;top:15.8px;font-size:31.0px;line-height:37px;color:#e0d9e3;transform:scaleX(0.8000);-webkit-text-stroke:0.35px #e0d9e3;">H</span>
<span class="t " style="left:753.8px;top:17.5px;font-size:29.0px;line-height:35px;color:#d8466e;transform:scaleX(0.9956);-webkit-text-stroke:0.35px #d8466e;">87,798.2</span>
<span class="t " style="left:881.7px;top:15.8px;font-size:31.0px;line-height:37px;color:#e0d9e3;transform:scaleX(0.8000);-webkit-text-stroke:0.35px #e0d9e3;">L</span>
<span class="t " style="left:898.1px;top:17.5px;font-size:29.0px;line-height:35px;color:#d8466e;transform:scaleX(0.9938);-webkit-text-stroke:0.35px #d8466e;">86,800.2</span>
<span class="t " style="left:1025.7px;top:15.8px;font-size:31.0px;line-height:37px;color:#e0d9e3;transform:scaleX(0.8266);-webkit-text-stroke:0.35px #e0d9e3;">C</span>
<span class="t " style="left:1047.7px;top:17.5px;font-size:29.0px;line-height:35px;color:#d8466e;transform:scaleX(0.9903);-webkit-text-stroke:0.35px #d8466e;">87,162.7</span>
<span class="t " style="left:1177.6px;top:17.5px;font-size:29.0px;line-height:35px;color:#d8466e;transform:scaleX(1.0283);-webkit-text-stroke:0.35px #d8466e;">-279.5 (-0.32%)</span>
<svg width="2594" height="1285" viewBox="125 81 2594 1285"><circle cx="171.9" cy="108.5" r="12.5" fill="#17a2a0"/><path d="M165,103.5 h13 l4,4.5 l-10.5,10 l-10.5,-10 z" fill="#e9f7f7"/><path d="M167.5,106.5 h9 M172,106.5 v5 M168,109.3 h8" stroke="#17a2a0" stroke-width="1.6" fill="none"/><circle cx="158" cy="122.4" r="14.8" fill="#0e0510"/><circle cx="158" cy="122.4" r="12" fill="#ef913d"/><g transform="translate(158.2,122.4) rotate(14) scale(0.5)" stroke="#fff" stroke-width="4.8" fill="none"><path d="M-8.5,-9.6 H2 a4.6,4.6 0 0 1 0,9.4 H-4.5 M-4.5,-0.2 H3.4 a5,5 0 0 1 0,10 H-8.5 M-4.6,-9.6 V9.8" /><path d="M-2.2,-15.5 V-11 M3,-15.5 V-11 M-2.2,11 V15.5 M3,11 V15.5" stroke-width="2.8"/></g></svg>
<div class="abs" style="left:21.0px;top:67.5px;width:70.5px;height:43.5px;box-sizing:border-box;border:2px solid #433645;border-radius:7px;background:#070307"></div>
<svg width="2594" height="1285" viewBox="125 81 2594 1285"><path d="M160.5,166 L167.5,173 L174.5,166" stroke="#e8e8e8" stroke-width="2.8" fill="none" stroke-linecap="round" stroke-linejoin="round"/></svg>
<span class="t " style="left:64.5px;top:70.9px;font-size:28.5px;line-height:34px;color:#e8e8e8;transform:scaleX(1.0223);-webkit-text-stroke:0.35px #e8e8e8;">6</span>
<div class="abs" style="left:2533px;top:9px;width:52px;height:52px;border-radius:9px;background:#1c4fd8"></div>
<svg width="2594" height="1285" viewBox="125 81 2594 1285"><path d="M2672.5,112.5 V108.5 a5,5 0 0 1 5,-5 H2690.5 a5,5 0 0 1 5,5 V112.5 M2672.5,119.5 V123.5 a5,5 0 0 0 5,5 H2690.5 a5,5 0 0 0 5,-5 V119.5" stroke="#e6ecff" stroke-width="2.3" fill="none" stroke-linecap="round"/></svg>
<div class="abs" style="left:2548px;top:465px;width:46px;height:46px;border-radius:5px 0 0 5px;background:#3a3a3a"></div>
<svg width="2594" height="1285" viewBox="125 81 2594 1285"><circle cx="2696" cy="569" r="14.5" stroke="#fff" stroke-width="2.2" fill="none"/><path d="M2688,569 H2704 M2696,561 V577" stroke="#fff" stroke-width="2.2"/></svg>
</main>
<div id="paxis">
<span class="t " style="left:18.5px;top:84.7px;font-size:26.0px;line-height:31px;color:#c4c4c4;transform:scaleX(1.0354);-webkit-text-stroke:0.35px #c4c4c4;">95,000.0</span>
<span class="t " style="left:18.5px;top:185.8px;font-size:26.0px;line-height:31px;color:#c4c4c4;transform:scaleX(1.0354);-webkit-text-stroke:0.35px #c4c4c4;">94,000.0</span>
<span class="t " style="left:18.5px;top:287.0px;font-size:26.0px;line-height:31px;color:#c4c4c4;transform:scaleX(1.0354);-webkit-text-stroke:0.35px #c4c4c4;">93,000.0</span>
<span class="t " style="left:18.5px;top:388.1px;font-size:26.0px;line-height:31px;color:#c4c4c4;transform:scaleX(1.0354);-webkit-text-stroke:0.35px #c4c4c4;">92,000.0</span>
<span class="t " style="left:18.5px;top:489.3px;font-size:26.0px;line-height:31px;color:#c4c4c4;transform:scaleX(1.0354);-webkit-text-stroke:0.35px #c4c4c4;">91,000.0</span>
<span class="t " style="left:18.5px;top:590.4px;font-size:26.0px;line-height:31px;color:#c4c4c4;transform:scaleX(1.0354);-webkit-text-stroke:0.35px #c4c4c4;">90,000.0</span>
<span class="t " style="left:18.5px;top:691.6px;font-size:26.0px;line-height:31px;color:#c4c4c4;transform:scaleX(1.0354);-webkit-text-stroke:0.35px #c4c4c4;">89,000.0</span>
<span class="t " style="left:18.5px;top:792.7px;font-size:26.0px;line-height:31px;color:#c4c4c4;transform:scaleX(1.0354);-webkit-text-stroke:0.35px #c4c4c4;">88,000.0</span>
<span class="t " style="left:18.5px;top:893.9px;font-size:26.0px;line-height:31px;color:#c4c4c4;transform:scaleX(1.0354);-webkit-text-stroke:0.35px #c4c4c4;">87,000.0</span>
<span class="t " style="left:18.5px;top:995.0px;font-size:26.0px;line-height:31px;color:#c4c4c4;transform:scaleX(1.0354);-webkit-text-stroke:0.35px #c4c4c4;">86,000.0</span>
<span class="t " style="left:18.5px;top:1096.2px;font-size:26.0px;line-height:31px;color:#c4c4c4;transform:scaleX(1.0354);-webkit-text-stroke:0.35px #c4c4c4;">85,000.0</span>
<span class="t " style="left:18.5px;top:1197.3px;font-size:26.0px;line-height:31px;color:#c4c4c4;transform:scaleX(1.0354);-webkit-text-stroke:0.35px #c4c4c4;">84,000.0</span>
<div class="pl" style="top:0.0px;height:38.0px;background:#2962ff;"></div><span class="t " style="left:18.5px;top:2.5px;font-size:26.0px;line-height:31px;color:#fff;transform:scaleX(1.0354);-webkit-text-stroke:0.35px #fff;">96,164.5</span>
<div class="pl" style="top:500.0px;height:38.5px;background:#2962ff;"></div><span class="t " style="left:18.5px;top:502.7px;font-size:26.0px;line-height:31px;color:#fff;transform:scaleX(1.0354);-webkit-text-stroke:0.35px #fff;">90,861.6</span>
<div class="pl" style="top:465.0px;height:46.0px;background:#3a3a3a;border-radius:5px;"></div><span class="t " style="left:18.5px;top:471.5px;font-size:26.0px;line-height:31px;color:#fff;transform:scaleX(1.0354);-webkit-text-stroke:0.35px #fff;">91,177.7</span>
<div class="pl" style="top:598.0px;height:38.0px;background:#2196f3;"></div><span class="t " style="left:18.5px;top:600.5px;font-size:26.0px;line-height:31px;color:#fff;transform:scaleX(1.0354);-webkit-text-stroke:0.35px #fff;">89,908.0</span>
<div class="pl" style="top:663.0px;height:37.5px;background:#4caf50;"></div><span class="t " style="left:18.5px;top:665.2px;font-size:26.0px;line-height:31px;color:#fff;transform:scaleX(1.0354);-webkit-text-stroke:0.35px #fff;">88,469.6</span>
<div class="pl" style="top:700.5px;height:37.5px;background:#ffeb3b;"></div><span class="t " style="left:18.5px;top:702.7px;font-size:26.0px;line-height:31px;color:#000;transform:scaleX(1.0354);-webkit-text-stroke:0.35px #000;">88,129.8</span>
<div class="pl" style="top:738.0px;height:37.0px;background:#ff9800;"></div><span class="t " style="left:18.5px;top:740.0px;font-size:26.0px;line-height:31px;color:#000;transform:scaleX(1.0354);-webkit-text-stroke:0.35px #000;">87,995.8</span>
<div class="pl" style="top:775.0px;height:38.0px;background:#ff6d00;"></div><span class="t " style="left:18.5px;top:777.5px;font-size:26.0px;line-height:31px;color:#fff;transform:scaleX(1.0354);-webkit-text-stroke:0.35px #fff;">87,794.1</span>
<div class="pl" style="top:813.0px;height:38.0px;background:#f23645;"></div><span class="t " style="left:18.5px;top:815.5px;font-size:26.0px;line-height:31px;color:#fff;transform:scaleX(1.0354);-webkit-text-stroke:0.35px #fff;">87,789.0</span>
<div class="pl" style="top:876.0px;height:38.0px;background:#ca3e64;"></div><span class="t " style="left:18.5px;top:878.5px;font-size:26.0px;line-height:31px;color:#fff;transform:scaleX(1.0354);-webkit-text-stroke:0.35px #fff;">87,162.7</span>
<div class="pl" style="top:928.0px;height:38.0px;background:#2962ff;"></div><span class="t " style="left:18.5px;top:930.5px;font-size:26.0px;line-height:31px;color:#fff;transform:scaleX(1.0354);-webkit-text-stroke:0.35px #fff;">86,644.9</span>
<div class="pl" style="top:1023.0px;height:37.5px;background:#2196f3;"></div><span class="t " style="left:18.5px;top:1025.2px;font-size:26.0px;line-height:31px;color:#fff;transform:scaleX(1.0354);-webkit-text-stroke:0.35px #fff;">85,708.5</span>
<div class="pl" style="top:1060.5px;height:37.5px;background:#2196f3;"></div><span class="t " style="left:18.5px;top:1062.7px;font-size:26.0px;line-height:31px;color:#fff;transform:scaleX(1.0354);-webkit-text-stroke:0.35px #fff;">85,680.1</span>
<div class="pl" style="top:1098.0px;height:38.0px;background:#2962ff;"></div><span class="t " style="left:18.5px;top:1100.5px;font-size:26.0px;line-height:31px;color:#fff;transform:scaleX(1.0354);-webkit-text-stroke:0.35px #fff;">84,998.1</span>
</div>
<div id="taxis">
<span class="t " style="left:66.1px;top:17.0px;font-size:26.0px;line-height:31px;color:#c8c8c8;transform:scaleX(1.0376);-webkit-text-stroke:0.35px #c8c8c8;">5</span>
<span class="t " style="left:256.0px;top:17.0px;font-size:26.0px;line-height:31px;color:#c8c8c8;transform:scaleX(1.0376);-webkit-text-stroke:0.35px #c8c8c8;">9</span>
<span class="t " style="left:438.6px;top:17.0px;font-size:26.0px;line-height:31px;color:#c8c8c8;transform:scaleX(1.0203);-webkit-text-stroke:0.35px #c8c8c8;">13</span>
<span class="t " style="left:628.5px;top:17.0px;font-size:26.0px;line-height:31px;color:#c8c8c8;transform:scaleX(1.0203);-webkit-text-stroke:0.35px #c8c8c8;">17</span>
<span class="t " style="left:818.4px;top:17.0px;font-size:26.0px;line-height:31px;color:#c8c8c8;transform:scaleX(1.0203);-webkit-text-stroke:0.35px #c8c8c8;">21</span>
<span class="t " style="left:1008.2px;top:17.0px;font-size:26.0px;line-height:31px;color:#c8c8c8;transform:scaleX(1.0203);-webkit-text-stroke:0.35px #c8c8c8;">25</span>
<span class="t " style="left:1727.5px;top:17.0px;font-size:26.0px;line-height:31px;color:#c8c8c8;transform:scaleX(1.0376);-webkit-text-stroke:0.35px #c8c8c8;">9</span>
<span class="t " style="left:1910.2px;top:17.0px;font-size:26.0px;line-height:31px;color:#c8c8c8;transform:scaleX(1.0203);-webkit-text-stroke:0.35px #c8c8c8;">13</span>
<span class="t " style="left:2100.1px;top:17.0px;font-size:26.0px;line-height:31px;color:#c8c8c8;transform:scaleX(1.0203);-webkit-text-stroke:0.35px #c8c8c8;">17</span>
<span class="t " style="left:2289.9px;top:17.0px;font-size:26.0px;line-height:31px;color:#c8c8c8;transform:scaleX(1.0203);-webkit-text-stroke:0.35px #c8c8c8;">21</span>
<span class="t " style="left:2479.8px;top:17.0px;font-size:26.0px;line-height:31px;color:#c8c8c8;transform:scaleX(1.0203);-webkit-text-stroke:0.35px #c8c8c8;">25</span>
<span class="t " style="left:1325.0px;top:17.0px;font-size:26.0px;line-height:31px;color:#c8c8c8;font-weight:700;transform:scaleX(1.0372);">2026</span>
<div class="abs" style="left:1348.3px;top:0;width:249.7px;height:51.5px;background:#3a3a3a;border-radius:0 0 5px 5px"></div>
<span class="t " style="left:1367.5px;top:15.0px;font-size:26.0px;line-height:31px;color:#fff;transform:scaleX(1.0199);-webkit-text-stroke:0.35px #fff;">03 Jan '26   21:00</span>
<svg width="2751" height="61" viewBox="125 1366 2751 61"><path d="M2793.5,1383.6 H2809.5 L2817.5,1397.4 L2809.5,1411.2 H2793.5 L2785.5,1397.4 Z" stroke="#d0d0d0" stroke-width="2.4" fill="none" stroke-linejoin="round"/><circle cx="2801.5" cy="1397.4" r="4.6" stroke="#d0d0d0" stroke-width="2.4" fill="none"/></svg>
</div><div id="botline"></div>
<footer id="bottom">
<span class="t " style="left:158.0px;top:23.9px;font-size:30.5px;line-height:37px;color:#9c9c9c;transform:scaleX(0.9492);-webkit-text-stroke:0.35px #9c9c9c;">1D</span>
<span class="t " style="left:222.5px;top:23.9px;font-size:30.5px;line-height:37px;color:#9c9c9c;transform:scaleX(0.9928);-webkit-text-stroke:0.35px #9c9c9c;">5D</span>
<span class="t " style="left:290.5px;top:23.9px;font-size:30.5px;line-height:37px;color:#9c9c9c;transform:scaleX(0.9749);-webkit-text-stroke:0.35px #9c9c9c;">1M</span>
<span class="t " style="left:359.2px;top:23.9px;font-size:30.5px;line-height:37px;color:#9c9c9c;transform:scaleX(1.0339);-webkit-text-stroke:0.35px #9c9c9c;">3M</span>
<span class="t " style="left:430.0px;top:23.9px;font-size:30.5px;line-height:37px;color:#9c9c9c;transform:scaleX(1.0339);-webkit-text-stroke:0.35px #9c9c9c;">6M</span>
<span class="t " style="left:502.5px;top:23.9px;font-size:30.5px;line-height:37px;color:#9c9c9c;transform:scaleX(0.9732);-webkit-text-stroke:0.35px #9c9c9c;">1Y</span>
<span class="t " style="left:2404.0px;top:23.1px;font-size:31.5px;line-height:38px;color:#9c9c9c;transform:scaleX(0.9546);-webkit-text-stroke:0.35px #9c9c9c;">12:23:35 UTC+9</span>
<div class="sep" style="left:2648px;top:18px;height:47px;background:#444"></div>
<span class="t " style="left:2674.6px;top:23.9px;font-size:30.5px;line-height:37px;color:#9c9c9c;transform:scaleX(0.9589);-webkit-text-stroke:0.35px #9c9c9c;">%</span>
<span class="t " style="left:2730.8px;top:23.9px;font-size:30.5px;line-height:37px;color:#9c9c9c;transform:scaleX(0.9856);-webkit-text-stroke:0.35px #9c9c9c;">log</span>
<div class="btn" style="left:2789px;top:4.0px;width:79px;height:80px;background:#2d2d2d;border-radius:7px"></div>
<span class="t " style="left:2799.8px;top:24.6px;font-size:30.0px;line-height:36px;color:#fff;transform:scaleX(1.0140);-webkit-text-stroke:0.35px #fff;">auto</span>
</footer>
</div></body></html>
